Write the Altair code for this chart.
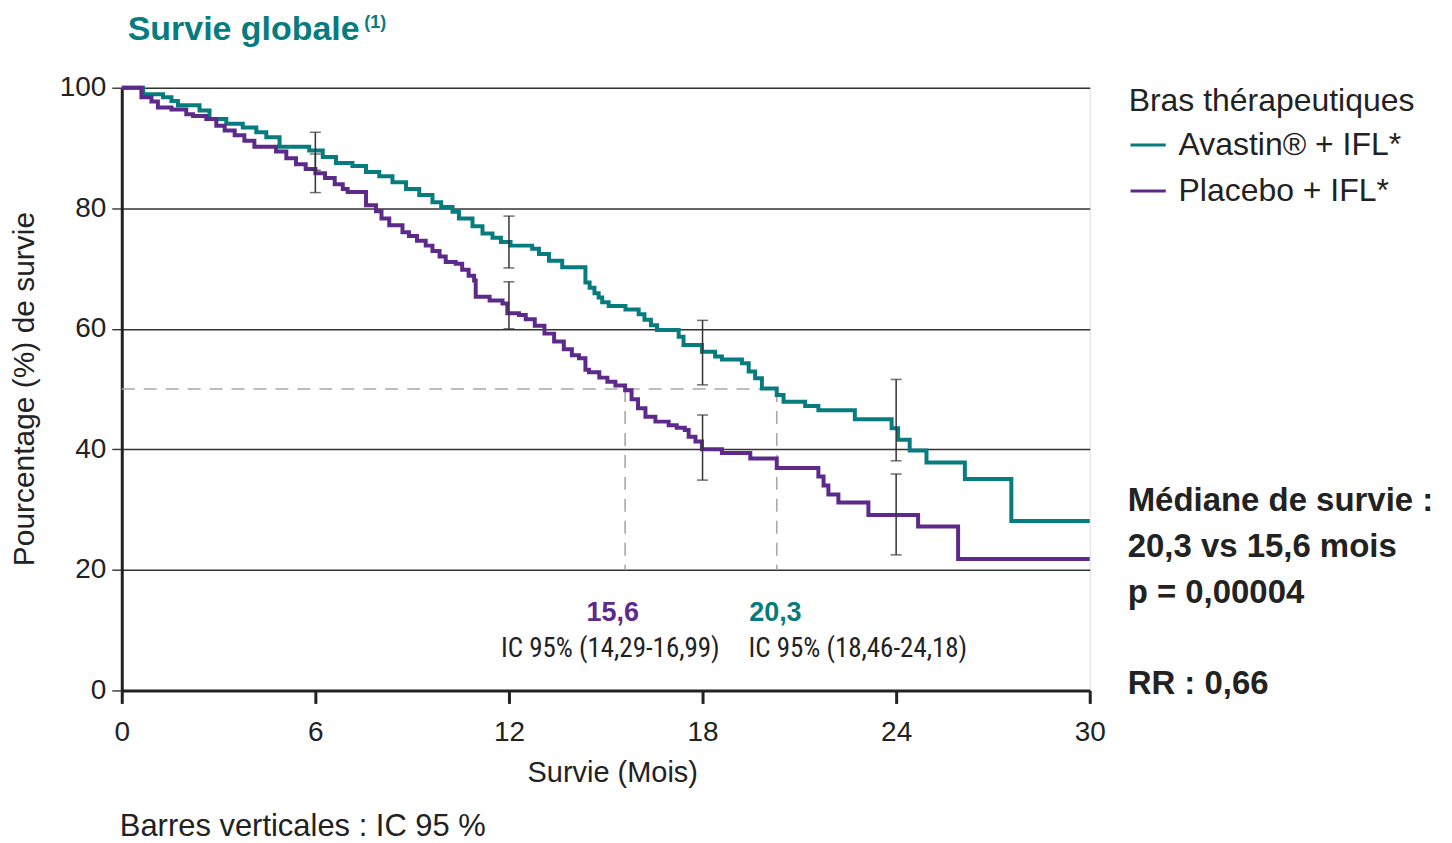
import altair as alt
import pandas as pd

# ---------------- data ----------------
ARM_A = "Avastin® + IFL*"
ARM_P = "Placebo + IFL*"

months_avastin = [0, 0.66, 1.28, 1.54, 1.74, 2.41, 2.72, 3.24, 3.75, 4.17, 4.48, 4.89, 5.81, 6.23,
                  6.64, 7.15, 7.57, 7.98, 8.39, 8.81, 9.22, 9.63, 9.90, 10.25, 10.45, 10.87, 11.18,
                  11.49, 11.75, 12.05, 12.72, 12.93, 13.24, 13.65, 14.37, 14.50, 14.65, 14.78, 14.89,
                  15.09, 15.61, 16.02, 16.20, 16.40, 16.59, 17.26, 17.41, 17.98, 18.39, 18.60, 19.22,
                  19.43, 19.63, 19.84, 20.30, 20.51, 21.18, 21.59, 22.72, 23.86, 24.06, 24.42, 24.94,
                  26.13, 27.57, 30.0]
surv_avastin = [100, 98.9, 98.4, 97.8, 97.1, 96.2, 94.8, 94.0, 93.4, 92.6, 91.8, 90.2, 89.6,
                88.5, 87.5, 87.0, 86.0, 85.3, 84.3, 83.2, 82.2, 81.0, 80.2, 79.4, 78.3, 77.0, 75.8,
                75.1, 74.4, 73.8, 73.3, 72.4, 71.3, 70.2, 67.7, 66.8, 65.9, 65.2, 64.4,
                63.8, 63.2, 62.4, 61.5, 60.6, 59.8, 58.7, 57.3, 56.2, 55.4, 54.9,
                54.3, 52.9, 51.8, 50.1, 49.0, 47.9, 47.2, 46.5, 45.0, 43.5, 41.6, 39.8,
                37.8, 35.1, 28.1, 28.1]

months_placebo = [0, 0.61, 0.92, 1.12, 1.54, 2.00, 2.21, 2.62, 2.93, 3.19, 3.50, 3.80, 4.11, 4.78,
                  5.10, 5.40, 5.70, 6.00, 6.30, 6.60, 6.85, 7.00, 7.57, 7.88, 8.05, 8.29, 8.70, 8.90,
                  9.15, 9.42, 9.63, 9.85, 10.04, 10.35, 10.55, 10.75, 10.92, 10.97, 11.40, 11.80,
                  11.95, 12.31, 12.52, 12.80, 13.10, 13.40, 13.70, 13.95, 14.17, 14.37, 14.48, 14.80,
                  15.05, 15.30, 15.60, 15.80, 16.00, 16.23, 16.54, 16.95, 17.20, 17.45, 17.57, 17.78,
                  17.98, 18.60, 19.48, 20.30, 21.59, 21.75, 21.90, 22.21, 23.14, 24.68, 25.92,
                  30.0]
surv_placebo = [100, 98.4, 97.7, 96.7, 96.4, 95.6, 95.3, 94.8, 93.7, 92.9, 92.1, 91.2, 90.2, 89.4,
                88.3, 87.3, 86.5, 85.8, 85.0, 84.0, 83.2, 82.7, 80.5, 79.5, 78.3, 77.2, 76.0, 75.4,
                74.6, 73.8, 72.9, 72.0, 71.1, 70.8, 69.8, 68.8, 68.0, 65.3, 64.7, 64.2,
                62.6, 62.3, 61.6, 60.5, 59.2, 57.9, 56.6, 55.6, 55.1, 53.2, 52.8, 51.9,
                51.2, 50.6, 49.8, 48.3, 46.8, 45.4, 44.6, 44.0, 43.6, 43.2, 42.1, 41.3,
                40.0, 39.4, 38.5, 36.9, 35.5, 34.0, 32.5, 31.2, 29.1, 27.2, 21.8,
                21.8]

ci_months = [6, 12, 18, 24]
ci_avastin_lo = [86.3, 70.1, 50.7, 38.1]
ci_avastin_hi = [92.6, 78.7, 61.4, 51.6]
ci_placebo_lo = [82.6, 60.0, 34.9, 22.5]
ci_placebo_hi = [89.0, 67.8, 45.7, 35.9]

median_months = [15.6, 20.3]
median_level = 50

x_ticks = [0, 6, 12, 18, 24, 30]
y_ticks = [0, 20, 40, 60, 80, 100]

TEAL = "#067c7f"
PURPLE = "#5d2a8c"
INK = "#222222"
SANS = "Liberation Sans, Arial, Helvetica, sans-serif"
NARROW = "Roboto Condensed, Liberation Sans Narrow, Arial Narrow, sans-serif"

# ---------------- tables ----------------
curves = pd.concat([
    pd.DataFrame({"mois": months_avastin, "survie": surv_avastin, "bras": ARM_A}),
    pd.DataFrame({"mois": months_placebo, "survie": surv_placebo, "bras": ARM_P}),
])

ci = pd.DataFrame({
    "mois": ci_months * 2,
    "lo": ci_avastin_lo + ci_placebo_lo,
    "hi": ci_avastin_hi + ci_placebo_hi,
})
caps = pd.DataFrame({"mois": ci["mois"].tolist() * 2, "v": ci["lo"].tolist() + ci["hi"].tolist()})

dash = pd.DataFrame({
    "x": [0, median_months[0], median_months[1]],
    "x2": [median_months[1], median_months[0], median_months[1]],
    "y": [median_level, median_level, median_level],
    "y2": [median_level, 20, 20],
})

xs = alt.Scale(domain=[0, 30], nice=False)
ys = alt.Scale(domain=[0, 100], nice=False)

dash_layer = alt.Chart(dash).mark_rule(color="#a8a8a8", strokeWidth=1.6, strokeDash=[13, 9]).encode(
    x=alt.X("x:Q", scale=xs), x2="x2:Q", y=alt.Y("y:Q", scale=ys), y2="y2:Q")

lines = alt.Chart(curves).mark_line(interpolate="step-after", strokeWidth=4).encode(
    x=alt.X("mois:Q", scale=xs,
            axis=alt.Axis(values=x_ticks, title=None, grid=False, domainWidth=3, domainColor=INK,
                          tickWidth=3, tickColor=INK, tickSize=13, labelPadding=15,
                          labelFlush=False, labelOverlap=False,
                          labelFontSize=28, labelColor=INK, labelFont=SANS)),
    y=alt.Y("survie:Q", scale=ys,
            axis=alt.Axis(values=y_ticks, title=None, grid=True, gridColor="#333333", gridWidth=1.4,
                          domainWidth=3, domainColor=INK, tickWidth=1.4, tickColor="#333333",
                          tickSize=10, labelPadding=6, labelFlush=False, labelOverlap=False,
                          labelFontSize=28, labelColor=INK, labelFont=SANS)),
    color=alt.Color("bras:N", scale=alt.Scale(domain=[ARM_A, ARM_P], range=[TEAL, PURPLE]),
                    legend=alt.Legend(title="Bras thérapeutiques", orient="none", legendX=1009,
                                      legendY=-2, titleFont=SANS, titleFontSize=32,
                                      titleFontWeight="normal", titleColor=INK, titlePadding=8,
                                      titleLimit=0, labelLimit=0,
                                      labelFont=SANS, labelFontSize=32, labelColor=INK,
                                      symbolType="stroke", symbolSize=1250, symbolStrokeWidth=3,
                                      labelOffset=11, rowPadding=10)),
)

bars = alt.Chart(ci).mark_rule(color="#333333", strokeWidth=1.5).encode(
    x=alt.X("mois:Q", scale=xs), y=alt.Y("lo:Q", scale=ys), y2="hi:Q")
cap_layer = alt.Chart(caps).mark_tick(color="#333333", orient="horizontal", size=11, thickness=1.5).encode(
    x=alt.X("mois:Q", scale=xs), y=alt.Y("v:Q", scale=ys))


def txt(t, x, y, size=27, weight="normal", color=INK, align="left", angle=0, font=SANS,
        baseline="middle"):
    return alt.Chart(pd.DataFrame({"t": [t]})).mark_text(
        font=font, fontSize=size, fontWeight=weight, color=color, align=align,
        baseline=baseline, angle=angle).encode(text="t:N", x=alt.value(x), y=alt.value(y))


texts = [
    txt("Survie globale", 6, -48, size=34, weight="bold", color=TEAL, baseline="alphabetic"),
    txt("(1)", 243, -60, size=18, weight="bold", color=TEAL, baseline="alphabetic"),
    txt("Pourcentage (%) de survie", -97, 302, size=30, angle=270, align="center"),
    txt("Survie (Mois)", 492, 687, size=29, align="center"),
    txt("Barres verticales : IC 95 %", -2, 741, size=31),
    txt("15,6", 492, 526, size=27, weight="bold", color=PURPLE, align="center"),
    txt("IC 95% (14,29-16,99)", 380, 562, size=27, font=NARROW),
    txt("20,3", 655, 526, size=27, weight="bold", color=TEAL, align="center"),
    txt("IC 95% (18,46-24,18)", 628, 562, size=27, font=NARROW),
    txt("Médiane de survie :", 1008, 414, size=33, weight="bold"),
    txt("20,3 vs 15,6 mois", 1008, 460, size=33, weight="bold"),
    txt("p  = 0,00004", 1008, 506, size=33, weight="bold"),
    txt("RR : 0,66", 1008, 598, size=33, weight="bold"),
]

chart = alt.layer(dash_layer, lines, bars, cap_layer, *texts).properties(
    width=970, height=604,
    padding={"left": 114, "top": 79, "right": 355, "bottom": 152},
    autosize=alt.AutoSizeParams(type="none"),
).configure_view(stroke=None).configure(background="white")

chart.save("out.html", embed_options={"renderer": "svg", "actions": False})
